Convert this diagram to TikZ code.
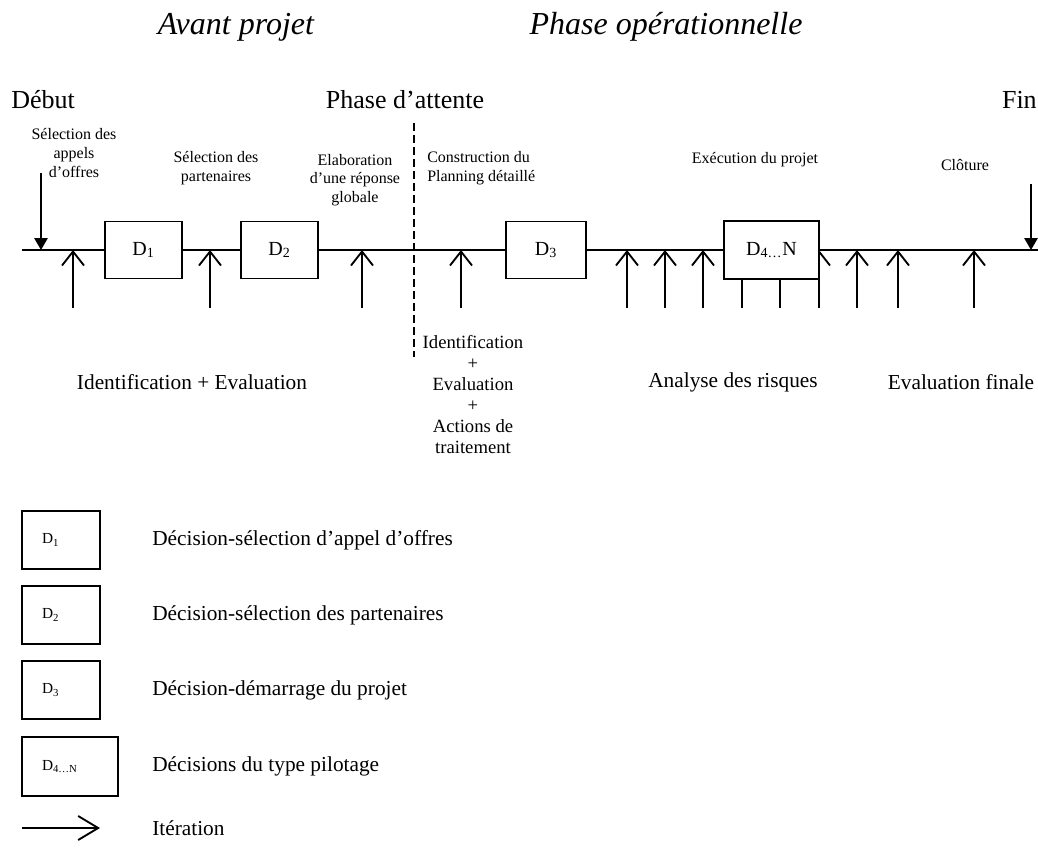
\documentclass[tikz,border=0pt]{standalone}
\usepackage{fontspec}
\setmainfont{Liberation Serif}
\usetikzlibrary{arrows.meta}
\begin{document}
\begin{tikzpicture}[x=0.75pt,y=-0.75pt,
  ln/.style={line width=1.4pt},
  upar/.style={ln,-{Straight Barb[length=10.5pt,width=16.5pt,line width=1.4pt]}},
  dnar/.style={ln,-{Triangle[length=9pt,width=10pt]}},
  itar/.style={ln,-{Straight Barb[length=15pt,width=18pt,line width=1.4pt]}},
  dbox/.style={draw,ln,fill=white,inner sep=0pt,minimum width=57.75pt,minimum height=42.75pt,font=\fontsize{15}{18}\selectfont},
  lbox/.style={draw,ln,fill=white,inner ysep=0pt,inner xsep=15pt,text width=28.5pt,align=left,minimum height=43.5pt,font=\fontsize{11.5}{14}\selectfont},
  big/.style={font=\fontsize{19.5}{23}\selectfont,inner sep=0pt},
  ital/.style={font=\fontsize{24}{28}\selectfont\itshape,inner sep=0pt},
  small/.style={font=\fontsize{12}{14}\selectfont,inner sep=0pt,align=center},
  mid/.style={font=\fontsize{16}{16}\selectfont,inner sep=0pt,align=center},
  leg/.style={font=\fontsize{16}{19}\selectfont,inner sep=0pt,anchor=west}
]
\path[use as bounding box] (0,0) rectangle (1038,851);

% titles
\node[ital] (avant) at (236,27) {Avant projet};
\node[ital] (opera) at (666,27) {Phase opérationnelle};
\node[big,anchor=west] (debut) at (11,100) {Début};
\node[big] (attente) at (405,100) {Phase d’attente};
\node[big,anchor=east] (fin) at (1037,100) {Fin};

% small labels
\node[small] (l1) at (74,153) {Sélection des\\appels\\d’offres};
\node[small] (l2) at (216,168) {Sélection des\\partenaires};
\node[small] (l3) at (355,180) {Elaboration\\d’une réponse\\globale};
\node[small,align=left,anchor=west] (l4) at (427,168) {Construction du\\Planning détaillé};
\node[small] (l5) at (755,160) {Exécution du projet};
\node[small] (l6) at (965,165) {Clôture};

% dashed separator
\coordinate (dtop) at (414,123);
\coordinate (dbot) at (414,357);
\draw[line width=1.3pt,dash pattern=on 6pt off 3pt] (dtop) -- (dbot);

% main line
\coordinate (start) at (22,250);
\coordinate (end) at (1038,250);
\draw[ln] (start) -- (end);

% upward arrows
\foreach \n/\x in {a1/73,a2/210,a3/362,a4/461,a5/627,a6/665,a7/703,a8/742,a9/780,a10/819,a11/857,a12/898,a13/974}{
  \coordinate (b\n) at (\x,308);
  \coordinate (t\n) at (\x,250);
  \draw[upar] (b\n) -- (t\n);
}

% downward arrows
\coordinate (s0) at (41,173);
\coordinate (e0) at (41,250);
\draw[dnar] (s0) -- (e0);
\coordinate (s1) at (1031,184);
\coordinate (e1) at (1031,250);
\draw[dnar] (s1) -- (e1);

% decision boxes
\node[dbox] (D1) at (143.5,250) {D\textsubscript{1}};
\node[dbox] (D2) at (279.5,250) {D\textsubscript{2}};
\node[dbox,minimum width=60pt] (D3) at (546,250) {D\textsubscript{3}};
\node[dbox,minimum width=71.25pt,minimum height=43.5pt] (D4) at (771.5,250) {D\textsubscript{4…}N};

% bottom labels
\node[mid] (m1) at (192,382) {Identification + Evaluation};
\node[mid,font=\fontsize{14}{15.75}\selectfont] (m2) at (473,395) {Identification\\+\\Evaluation\\+\\Actions de\\traitement};
\node[mid] (m3) at (733,382) {Analyse des risques};
\node[mid] (m4) at (961,382) {Evaluation finale};

% legend
\node[lbox] (k1) at (61,540) {D\textsubscript{1}};
\node[lbox] (k2) at (61,615) {D\textsubscript{2}};
\node[lbox] (k3) at (61,690) {D\textsubscript{3}};
\node[lbox,text width=42pt,minimum height=44.25pt] (k4) at (70,766.5) {D\textsubscript{4…N}};
\node[leg] (t1) at (152,540) {Décision-sélection d’appel d’offres};
\node[leg] (t2) at (152,615) {Décision-sélection des partenaires};
\node[leg] (t3) at (152,690) {Décision-démarrage du projet};
\node[leg] (t4) at (152,766) {Décisions du type pilotage};
\coordinate (i0) at (22,828);
\coordinate (i1) at (100,828);
\draw[itar] (i0) -- (i1);
\node[leg] (t5) at (152,828) {Itération};
\end{tikzpicture}
\end{document}
